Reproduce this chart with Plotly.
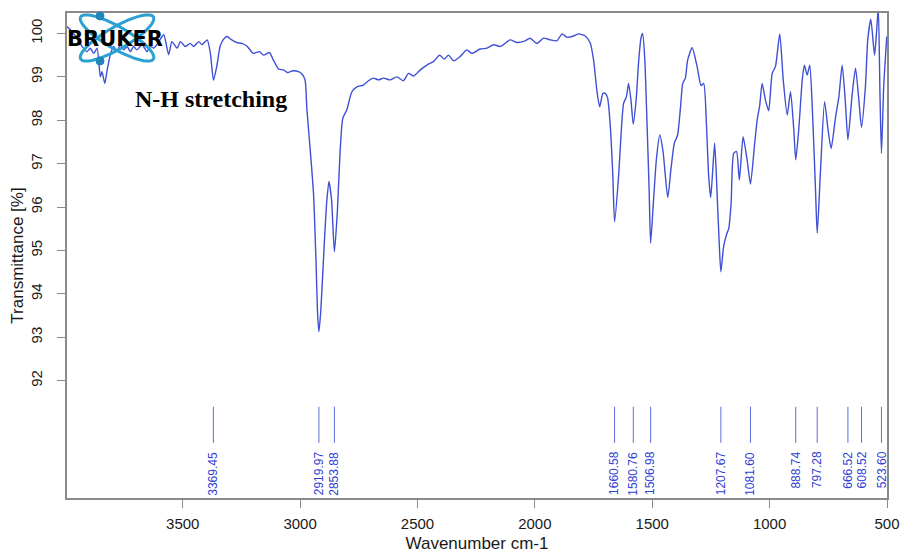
import numpy as np
import plotly.graph_objects as go

# ---------------- data ----------------
wavenumber = [
    3993, 3972, 3951, 3929, 3908, 3894, 3879, 3865, 3851, 3844, 3832, 3823, 3809, 3794, 3780,
    3766, 3751, 3737, 3723, 3709, 3695, 3673, 3652, 3638, 3624, 3602, 3581, 3560, 3546, 3524,
    3510, 3489, 3468, 3453, 3432, 3418, 3396, 3382, 3369, 3355, 3341, 3328, 3312, 3291, 3270,
    3248, 3227, 3199, 3173, 3156, 3131, 3114, 3092, 3071, 3054, 3031, 3007, 2993, 2979, 2971,
    2957, 2943, 2932, 2926, 2920, 2912, 2897, 2886, 2877, 2866, 2854, 2841, 2830, 2818, 2801,
    2780, 2758, 2730, 2709, 2688, 2666, 2645, 2616, 2588, 2560, 2538, 2517, 2488, 2460, 2432,
    2406, 2386, 2368, 2346, 2318, 2290, 2268, 2233, 2204, 2176, 2147, 2105, 2076, 2041, 2020,
    1991, 1963, 1934, 1906, 1884, 1863, 1835, 1814, 1785, 1764, 1750, 1735, 1724, 1710, 1700,
    1690, 1679, 1668, 1660.58, 1643, 1633, 1622, 1610, 1601, 1590, 1581, 1568, 1558, 1548, 1541,
    1532, 1522, 1513, 1507, 1494, 1482, 1468, 1454, 1434, 1420, 1406, 1392, 1380, 1370, 1359,
    1349, 1330, 1309, 1292, 1281, 1269, 1260, 1251, 1241, 1234, 1224, 1215, 1207.67, 1196, 1184,
    1174, 1164, 1153, 1141, 1129, 1113, 1096, 1081.6, 1065, 1053, 1042, 1032, 1018, 1004, 989,
    975, 957, 942, 925, 911, 897, 888.74, 876, 861, 852, 840, 829, 819, 805, 797.28,
    783, 766, 751, 738, 719, 705, 691, 677, 666.52, 648, 634, 620, 608.52, 592, 582,
    569, 553, 545, 537, 530, 523.6, 514, 501,
]
transmittance = [
    100.16, 100.04, 99.90, 99.70, 99.58, 99.66, 99.54, 99.66, 99.00, 99.12, 98.85, 99.12, 99.50, 99.70, 99.58,
    99.74, 99.62, 99.70, 99.58, 99.70, 99.62, 99.74, 99.58, 99.70, 99.66, 99.81, 99.97, 99.51, 99.81, 99.66,
    99.81, 99.70, 99.77, 99.70, 99.81, 99.74, 99.85, 99.53, 98.92, 99.24, 99.70, 99.85, 99.93, 99.85, 99.79,
    99.77, 99.71, 99.54, 99.58, 99.50, 99.56, 99.39, 99.18, 99.16, 99.10, 99.14, 99.12, 99.07, 98.93, 98.24,
    97.32, 96.32, 94.70, 93.60, 93.13, 93.60, 95.17, 96.16, 96.59, 96.16, 94.97, 95.93, 97.24, 98.05, 98.24,
    98.65, 98.77, 98.81, 98.91, 98.97, 98.93, 98.97, 98.93, 99.00, 98.91, 99.08, 99.02, 99.16, 99.27, 99.35,
    99.50, 99.41, 99.50, 99.37, 99.47, 99.62, 99.54, 99.64, 99.66, 99.74, 99.70, 99.85, 99.79, 99.83, 99.89,
    99.77, 99.89, 99.85, 99.83, 99.99, 99.91, 99.94, 99.99, 99.94, 99.78, 99.39, 98.65, 98.31, 98.62, 98.62,
    98.51, 97.89, 96.74, 95.66, 96.74, 97.66, 98.39, 98.54, 98.85, 98.43, 97.91, 98.51, 99.35, 99.89, 100.00,
    99.43, 97.89, 96.35, 95.17, 96.20, 97.12, 97.66, 97.28, 96.22, 96.89, 97.47, 97.66, 98.28, 98.85, 98.97,
    99.39, 99.67, 99.24, 98.80, 98.85, 97.89, 96.74, 96.22, 96.97, 97.47, 96.35, 95.20, 94.51, 95.09, 95.36,
    95.51, 96.09, 97.24, 97.28, 96.62, 97.62, 97.09, 96.53, 97.39, 98.01, 98.35, 98.85, 98.47, 98.22, 99.08,
    99.24, 99.99, 98.93, 98.12, 98.66, 97.78, 97.09, 97.78, 98.93, 99.27, 99.04, 99.27, 98.39, 96.47, 95.40,
    96.86, 98.43, 97.78, 97.35, 98.08, 98.54, 99.27, 98.39, 97.55, 98.62, 99.20, 98.47, 97.84, 98.77, 99.85,
    100.33, 99.50, 100.00, 100.60, 98.62, 97.24, 98.77, 99.93,
]

peak_wn = [3369.45, 2919.97, 2853.88, 1660.58, 1580.76, 1506.98, 1207.67,
           1081.60, 888.74, 797.28, 666.52, 608.52, 523.60]
peak_labels = ["3369.45", "2919.97", "2853.88", "1660.58", "1580.76", "1506.98", "1207.67",
               "1081.60", "888.74", "797.28", "666.52", "608.52", "523.60"]

x_ticks = [3500, 3000, 2500, 2000, 1500, 1000, 500]
y_ticks = [92, 93, 94, 95, 96, 97, 98, 99, 100]

# ---------------- styling / layout ----------------
LINE_BLUE = "#3f4fd6"
MARK_BLUE = "#5c6fe0"
TEXT_BLUE = "#3042d4"
FRAME = "#8a8a8a"
X_RANGE = [3993, 500]
Y_RANGE = [89.30, 100.47]
MARK_TOP, MARK_BOTTOM, LABEL_TOP = 91.40, 90.57, 90.42

fig = go.Figure()

fig.add_trace(go.Scatter(
    x=wavenumber, y=transmittance, mode="lines",
    line=dict(color=LINE_BLUE, width=1.4, shape="spline", smoothing=0.6),
    hoverinfo="skip", showlegend=False,
))

mx, my = [], []
for w in peak_wn:
    mx += [w, w, None]
    my += [MARK_TOP, MARK_BOTTOM, None]
fig.add_trace(go.Scatter(x=mx, y=my, mode="lines",
                         line=dict(color=MARK_BLUE, width=1), hoverinfo="skip",
                         showlegend=False))

for w, lab in zip(peak_wn, peak_labels):
    fig.add_annotation(x=w, y=LABEL_TOP, text=lab, showarrow=False, textangle=-90,
                       xanchor="center", yanchor="top",
                       font=dict(family="Liberation Sans", size=12, color=TEXT_BLUE))

# Bruker logo (decoration)
def ellipse_path(a, b, ang_deg, n=72):
    ang = np.deg2rad(ang_deg)
    t = np.linspace(0, 2 * np.pi, n, endpoint=False)
    xs = a * np.cos(t) * np.cos(ang) - b * np.sin(t) * np.sin(ang)
    ys = a * np.cos(t) * np.sin(ang) + b * np.sin(t) * np.cos(ang)
    pts = [f"{x:.2f},{y:.2f}" for x, y in zip(xs, ys)]
    return "M " + " L ".join(pts) + " Z"

LOGO_X, LOGO_Y = 0.061, 0.9485
LOGO_C = "#2ba0d2"
for ang in (30, -30):
    fig.add_shape(type="path", xref="paper", yref="paper",
                  xsizemode="pixel", ysizemode="pixel",
                  xanchor=LOGO_X, yanchor=LOGO_Y, path=ellipse_path(42, 11, ang),
                  line=dict(color=LOGO_C, width=3), fillcolor="rgba(0,0,0,0)")
for dy in (22, -23):
    fig.add_shape(type="circle", xref="paper", yref="paper",
                  xsizemode="pixel", ysizemode="pixel",
                  xanchor=LOGO_X, yanchor=LOGO_Y,
                  x0=-21, x1=-13, y0=dy - 4, y1=dy + 4,
                  line=dict(color="#1e86bd", width=1), fillcolor="#1e86bd")

fig.add_annotation(xref="paper", yref="paper", x=0.0585, y=0.946, text="<b>BRUKER</b>",
                   showarrow=False, xanchor="center", yanchor="middle",
                   font=dict(family="DejaVu Sans", size=21, color="#000000"))

fig.add_annotation(xref="paper", yref="paper", x=0.1762, y=0.8227, text="<b>N-H stretching</b>",
                   showarrow=False, xanchor="center", yanchor="middle",
                   font=dict(family="Liberation Serif", size=24, color="#000000"))

axis_font = dict(family="Liberation Sans", size=15, color="#1a1a1a")
fig.update_layout(
    width=900, height=557,
    margin=dict(l=67, r=13, t=13, b=59, autoexpand=False),
    paper_bgcolor="white", plot_bgcolor="white",
    showlegend=False,
    xaxis=dict(range=X_RANGE, tickvals=x_ticks, ticktext=[str(v) for v in x_ticks],
               automargin=False,
               showgrid=False, zeroline=False, showline=True, mirror=True,
               linecolor=FRAME, linewidth=1.5, ticks="outside", ticklen=8,
               tickcolor=FRAME, tickfont=axis_font, ticklabelstandoff=3,
               title=dict(text="Wavenumber cm-1", standoff=6,
                          font=dict(family="Liberation Sans", size=17, color="#1a1a1a"))),
    yaxis=dict(range=Y_RANGE, tickvals=y_ticks, ticktext=[str(v) for v in y_ticks],
               automargin=False,
               showgrid=False, zeroline=False, showline=True, mirror=True,
               linecolor=FRAME, linewidth=1.5, ticks="outside", ticklen=8,
               tickcolor=FRAME, tickfont=axis_font, tickangle=-90, ticklabelstandoff=9,
               title=dict(text="Transmittance [%]", standoff=0,
                          font=dict(family="Liberation Sans", size=17, color="#1a1a1a"))),
)

fig.write_html("out.html")
